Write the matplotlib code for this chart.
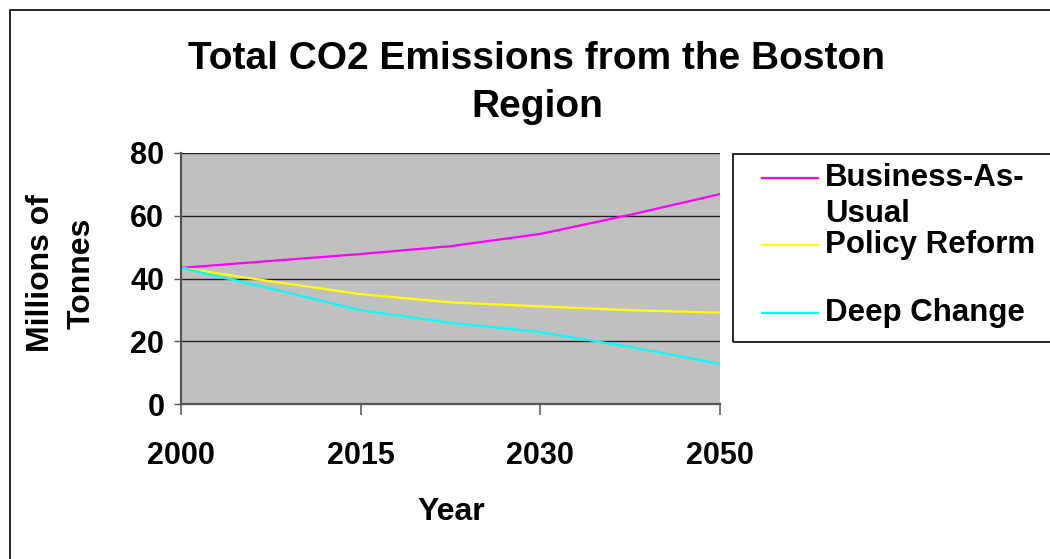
import matplotlib
matplotlib.use("Agg")
import matplotlib.pyplot as plt
from matplotlib.lines import Line2D
from matplotlib.patches import Rectangle

# categories (every other one is labelled on the axis)
years = ['2000', '2008', '2015', '2022', '2030', '2040', '2050']
tick_labels = ['2000', '2015', '2030', '2050']

# Millions of tonnes
business_as_usual = [43.4, 45.6, 47.8, 50.3, 54.2, 60.3, 66.9]
policy_reform = [43.4, 39.1, 35.0, 32.4, 31.1, 29.9, 29.1]
deep_change = [43.4, 36.8, 29.9, 25.9, 22.9, 18.2, 12.8]

series_names = ['Business-As-\nUsual', 'Policy Reform', 'Deep Change']
series_colors = ['#FF00FF', '#FFFF00', '#00FFFF']

W, H = 1050, 559
fig = plt.figure(figsize=(W / 100, H / 100), dpi=100)
plt.rcParams['font.family'] = ['Liberation Sans', 'DejaVu Sans']


def fx(px):
    return px / W


def fy(py):
    return 1 - py / H


# outer chart border (runs off the right and bottom edges)
fig.add_artist(Rectangle((fx(10), fy(575)), fx(1100), (575 - 10) / H,
                         transform=fig.transFigure, fill=False,
                         edgecolor='black', linewidth=1.2))

ax = fig.add_axes([fx(181), fy(404), fx(720 - 181), (404 - 153) / H])
ax.set_facecolor('#C0C0C0')

xpos = list(range(len(years)))
for vals, c in zip([business_as_usual, policy_reform, deep_change], series_colors):
    ax.plot(xpos, vals, color=c, linewidth=1.6, solid_joinstyle='round')

ax.set_xlim(0, len(years) - 1)
ax.set_ylim(0, 80)
ax.set_yticks(range(0, 81, 20))
ax.set_xticks(xpos[::2])
ax.set_xticklabels(tick_labels)
ax.yaxis.grid(True, color='#222222', linewidth=1)
ax.set_axisbelow(True)

for s in ['top', 'right']:
    ax.spines[s].set_visible(False)
ax.spines['left'].set_color('#555555')
ax.spines['left'].set_linewidth(1.6)
ax.spines['bottom'].set_color('#555555')
ax.spines['bottom'].set_linewidth(1.6)

ax.tick_params(axis='y', length=5, width=1, color='#555555', pad=7,
               labelsize=22)
ax.tick_params(axis='x', length=8, width=1.4, color='#777777', pad=19,
               labelsize=22)
for lab in ax.get_xticklabels() + ax.get_yticklabels():
    lab.set_fontweight('bold')

# titles and axis labels
fig.text(fx(537), fy(83), 'Total CO2 Emissions from the Boston\nRegion',
         ha='center', va='center', fontsize=28, fontweight='bold',
         linespacing=1.4)
fig.text(fx(451), fy(512), 'Year', ha='center', va='center',
         fontsize=23, fontweight='bold')
fig.text(fx(61), fy(273), 'Millions of\nTonnes', ha='center', va='center',
         rotation=90, fontsize=23, fontweight='bold', linespacing=1.45)

# legend box, Excel style
fig.add_artist(Rectangle((fx(733), fy(342)), fx(400), (342 - 154) / H,
                         transform=fig.transFigure, fill=False,
                         edgecolor='black', linewidth=1.2))
legend_y = [178, 245, 313]
for name, c, ly in zip(series_names, series_colors, legend_y):
    fig.add_artist(Line2D([fx(762), fx(818)], [fy(ly), fy(ly)],
                          transform=fig.transFigure, color=c, linewidth=1.6))
    first, *rest = name.split('\n')
    fig.text(fx(825), fy(ly), first, ha='left', va='center',
             fontsize=22.5, fontweight='bold')
    for i, r in enumerate(rest):
        fig.text(fx(825), fy(ly + 36 * (i + 1)), r, ha='left', va='center',
                 fontsize=22.5, fontweight='bold')

fig.savefig('out.png', dpi=100, facecolor='white')
